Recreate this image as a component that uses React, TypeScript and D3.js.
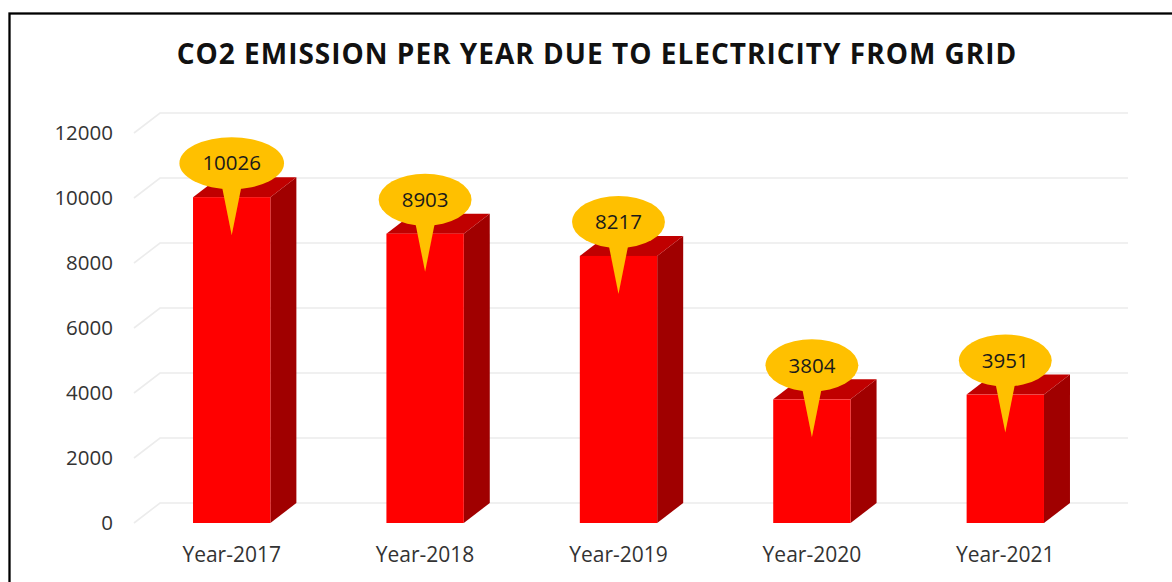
import { useEffect, useRef } from 'react';
import * as d3 from 'd3';

const years = ['Year-2017', 'Year-2018', 'Year-2019', 'Year-2020', 'Year-2021'];
const emissions = [10026, 8903, 8217, 3804, 3951];
const yTicks = [0, 2000, 4000, 6000, 8000, 10000, 12000];
const title = 'CO2 EMISSION PER YEAR DUE TO ELECTRICITY FROM GRID';

const App = () => {
  const ref = useRef<SVGSVGElement>(null);
  const width = 1172;
  const height = 582;
  const depthX = 26;
  const depthY = -20;
  const font = '"Open Sans", "Noto Sans", sans-serif';

  useEffect(() => {
    const svg = d3.select(ref.current);
    svg.selectAll('*').remove();

    // Scales for the front plane of the 3D chart
    const x = d3.scaleBand<string>()
      .domain(years)
      .range([135, 1102])
      .paddingInner(0.6)
      .paddingOuter(0.3);

    const y = d3.scaleLinear()
      .domain([0, 12000])
      .range([523, 133]);

    // Outer border (cropped at right and bottom in the reference)
    svg.append('rect')
      .attr('x', 9.5).attr('y', 13.5)
      .attr('width', 1300).attr('height', 700)
      .attr('fill', '#fff')
      .attr('stroke', '#000')
      .attr('stroke-width', 2.3);

    svg.append('text')
      .attr('x', 597).attr('y', 64)
      .attr('text-anchor', 'middle')
      .attr('font-family', font)
      .attr('font-weight', 700)
      .attr('font-size', 28)
      .attr('letter-spacing', 1)
      .attr('fill', '#111')
      .text(title);

    // Gridlines on the back wall with a diagonal to the front
    const grid = svg.append('g')
      .attr('fill', 'none')
      .attr('stroke', '#ececec')
      .attr('stroke-width', 1.6);
    grid.selectAll('path')
      .data(yTicks)
      .join('path')
      .attr('d', d => {
        const yy = y(d);
        return `M134,${yy} L${134 + depthX},${yy + depthY} L${1102 + depthX},${yy + depthY}`;
      });

    // Y axis labels
    svg.append('g')
      .selectAll('text')
      .data(yTicks)
      .join('text')
      .attr('x', 113)
      .attr('y', d => y(d))
      .attr('dy', '0.35em')
      .attr('text-anchor', 'end')
      .attr('font-family', font)
      .attr('font-size', 20.5)
      .attr('fill', '#333')
      .text(d => d);

    // 3D bars
    const bars = svg.append('g')
      .selectAll('g')
      .data(years.map((yr, i) => ({ yr, v: emissions[i] })))
      .join('g');

    const bw = x.bandwidth();

    bars.append('path')
      .attr('fill', '#a00000')
      .attr('d', d => {
        const x1 = x(d.yr)! + bw;
        const y0 = y(0);
        const y1 = y(d.v);
        return `M${x1},${y0} L${x1 + depthX},${y0 + depthY} L${x1 + depthX},${y1 + depthY} L${x1},${y1} Z`;
      });

    bars.append('path')
      .attr('fill', '#c00000')
      .attr('d', d => {
        const x0 = x(d.yr)!;
        const x1 = x0 + bw;
        const y1 = y(d.v);
        return `M${x0},${y1} L${x0 + depthX},${y1 + depthY} L${x1 + depthX},${y1 + depthY} L${x1},${y1} Z`;
      });

    bars.append('rect')
      .attr('x', d => x(d.yr)!)
      .attr('y', d => y(d.v))
      .attr('width', bw)
      .attr('height', d => y(0) - y(d.v))
      .attr('fill', '#ff0000');

    // Callout labels
    const callouts = bars.append('g')
      .attr('transform', d => `translate(${x(d.yr)! + bw / 2},${y(d.v) - 34})`);

    const labels = callouts.append('text')
      .attr('text-anchor', 'middle')
      .attr('dy', '0.35em')
      .attr('font-family', font)
      .attr('font-size', 20.5)
      .attr('fill', '#1a1a1a')
      .text(d => d.v);

    labels.each(function () {
      const t = this as SVGTextElement;
      const w = t.getComputedTextLength();
      const rx = w / 2 + 23;
      const g = d3.select(t.parentNode as SVGGElement);
      g.insert('path', 'text')
        .attr('fill', '#ffc000')
        .attr('d', `M-10,22 L0,72 L10,22 Z`);
      g.insert('ellipse', 'text')
        .attr('rx', rx)
        .attr('ry', 26)
        .attr('fill', '#ffc000');
    });

    // Category labels
    svg.append('g')
      .selectAll('text')
      .data(years)
      .join('text')
      .attr('x', d => x(d)! + bw / 2)
      .attr('y', 562)
      .attr('text-anchor', 'middle')
      .attr('font-family', font)
      .attr('font-size', 21)
      .attr('fill', '#333')
      .text(d => d);
  }, []);

  return (
    <div style={{ position: 'absolute', left: 0, top: 0 }}>
      <svg ref={ref} width={width} height={height} viewBox={`0 0 ${width} ${height}`} />
    </div>
  );
};

export default App;
